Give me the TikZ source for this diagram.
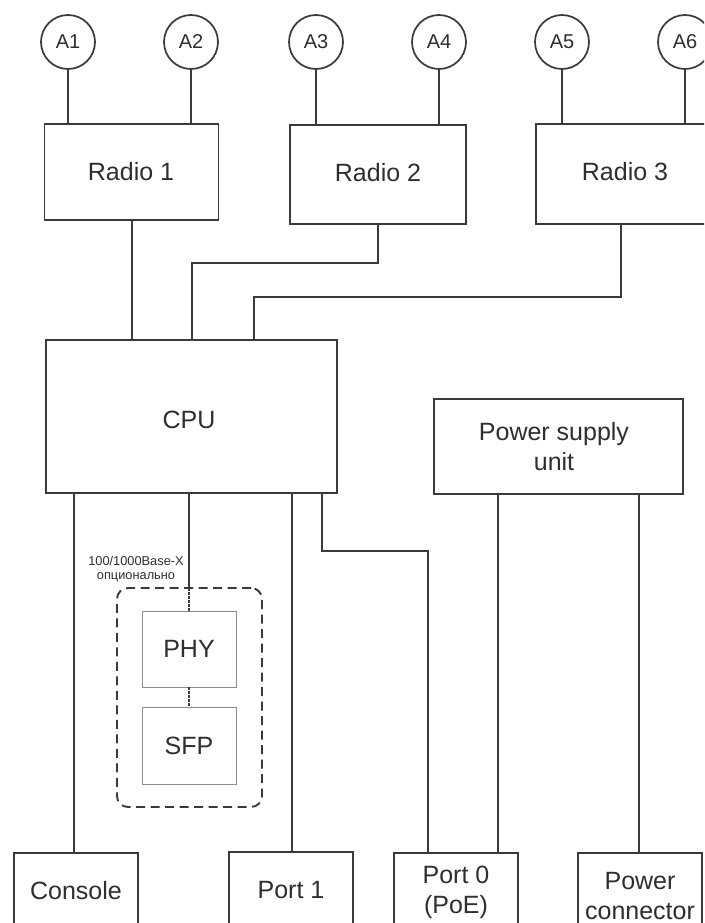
\documentclass[tikz,border=0pt]{standalone}
\usepackage{fontspec}
\setmainfont{Liberation Sans}
\definecolor{ink}{HTML}{3A3A3A}
\definecolor{txt}{HTML}{2E2E2E}
\definecolor{thin}{HTML}{8C8C8C}
\tikzset{
  wire/.style={draw=ink,line width=1.9pt},
  fine/.style={draw=ink,line width=1.7pt,dash pattern=on 2.5pt off 1.5pt},
  boxn/.style={draw=ink,line width=1.9pt,inner sep=0pt,outer sep=0pt,fill=white,text=txt,font=\fontsize{25}{30}\selectfont,align=center},
  graybox/.style={draw=thin,line width=0.9pt,inner sep=0pt,outer sep=0pt,fill=white,text=txt,font=\fontsize{25}{30}\selectfont},
  ant/.style={circle,draw=ink,line width=1.7pt,inner sep=0pt,outer sep=0pt,minimum size=54pt,text=txt,font=\fontsize{20}{24}\selectfont},
  lbl/.style={inner sep=0pt,text=txt,font=\fontsize{25}{30}\selectfont,align=center},
  tiny/.style={inner sep=0pt,text=txt,font=\fontsize{12.8}{14}\selectfont,align=center},
  optbox/.style={draw=ink,line width=1.9pt,rounded corners=11pt,dash pattern=on 9pt off 5.5pt,inner sep=0pt,outer sep=0pt}
}
\begin{document}
\begin{tikzpicture}[x=1pt,y=-1pt]
\useasboundingbox (0,0) rectangle (704,923);
\clip (0,0) rectangle (704,923);
\fill[white] (0,0) rectangle (704,923);

% antennas
\node[ant] (a1) at (68,42) {A1};
\node[ant] (a2) at (191,42) {A2};
\node[ant] (a3) at (316,42) {A3};
\node[ant] (a4) at (439,42) {A4};
\node[ant] (a5) at (562,42) {A5};
\node[ant] (a6) at (685,42) {A6};

% radios
\node[boxn,minimum width=174pt,minimum height=96pt] (r1) at (131.5,172) {};
\node[boxn,minimum width=176pt,minimum height=99pt] (r2) at (378,174.5) {};
\node[boxn,minimum width=182pt,minimum height=100pt] (r3) at (627,174) {};
\node[lbl] (r1l) at (131,172) {Radio 1};
\node[lbl] (r2l) at (378,173) {Radio 2};
\node[lbl] (r3l) at (625,172) {Radio 3};

% main blocks
\node[boxn,minimum width=291pt,minimum height=153pt] (cpu) at (191.5,416.5) {};
\node[lbl] (cpul) at (189,420) {CPU};
\node[boxn,minimum width=249pt,minimum height=95pt] (psu) at (558.5,446.5) {};
\node[lbl] (psul) at (554,447) {Power supply\\[0pt]unit};

% bottom connectors (cut by the lower edge)
\node[boxn,minimum width=124pt,minimum height=110pt] (con) at (76,908) {};
\node[boxn,minimum width=124pt,minimum height=110pt] (p1) at (291,907) {};
\node[boxn,minimum width=124pt,minimum height=110pt] (p0) at (456,908) {};
\node[boxn,minimum width=124pt,minimum height=110pt] (pc) at (640,908) {};
\node[lbl] (conl) at (76,891) {Console};
\node[lbl] (p1l) at (291,890) {Port 1};
\node[lbl] (p0l) at (456,892) {Port 0\\[0pt](PoE)};
\node[lbl] (pcl) at (640,896) {Power\\[0pt]connector};

% optional block
\node[optbox,minimum width=145pt,minimum height=219pt] (opt) at (189.5,697.5) {};
\node[graybox,minimum width=94pt,minimum height=76pt] (phy) at (189,649) {PHY};
\node[graybox,minimum width=94pt,minimum height=77pt] (sfp) at (189,745.5) {SFP};
\node[tiny] (optl) at (136,569) {100/1000Base-X\\опционально};

% antenna feeds
\foreach \a/\r in {a1/r1,a2/r1,a3/r2,a4/r2,a5/r3,a6/r3}
  \draw[wire] (\a.south) -- (\a.south |- \r.north);

% named tap points
\coordinate (t1) at (132,340);
\coordinate (t2) at (192,340);
\coordinate (t3) at (254,340);
\coordinate (b1) at (74,493);
\coordinate (b2) at (189,493);
\coordinate (b3) at (292,493);
\coordinate (b4) at (322,493);
\coordinate (s1) at (498,494);
\coordinate (s2) at (639,494);
\coordinate (k0) at (428,853);
\coordinate (k1) at (498,853);

% radios to CPU
\draw[wire] (t1 |- r1.south) -- (t1);
\draw[wire] (r2.south) -- (378,263) -- (192,263) -- (t2);
\draw[wire] (621,224) -- (621,297) -- (254,297) -- (t3);

% CPU to ports
\draw[wire] (b1) -- (b1 |- con.north);
\draw[wire] (b3) -- (b3 |- p1.north);
\draw[wire] (b4) -- (322,551) -- (428,551) -- (k0);
\draw[wire] (s1) -- (k1);
\draw[wire] (s2) -- (s2 |- pc.north);

% CPU to PHY to SFP
\draw[wire] (b2) -- (b2 |- opt.north);
\draw[fine] (b2 |- opt.north) -- (b2 |- phy.north);
\draw[fine] (phy.south) -- (sfp.north);
\end{tikzpicture}
\end{document}
